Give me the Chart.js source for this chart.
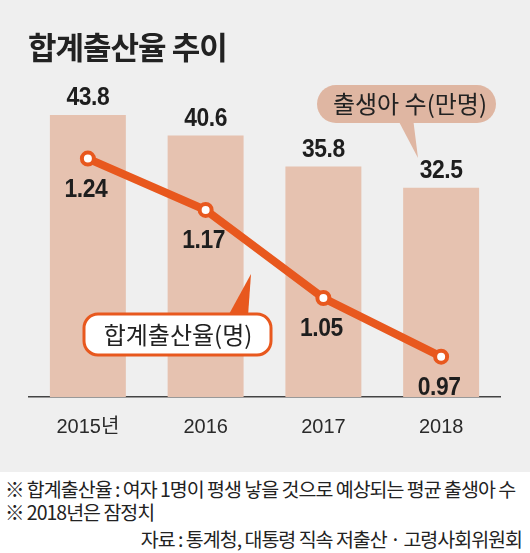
<!DOCTYPE html>
<html>
<head>
<meta charset="utf-8">
<script src="https://cdn.jsdelivr.net/npm/chart.js@4"></script>
<style>
    body{margin:0;background:#fff;}
    #wrap{position:relative;width:530px;height:553px;overflow:hidden;font-family:'Noto Sans CJK KR',sans-serif;color:#222;}
    #bg{position:absolute;left:0;top:0;width:530px;height:472px;background:#efefef;}
    #chartBox{position:absolute;left:0;top:0;width:530px;height:472px;}
    #title{position:absolute;left:28px;top:25px;font-size:31px;font-weight:bold;letter-spacing:-1px;line-height:42px;white-space:nowrap;}
    .note{position:absolute;font-size:19.5px;letter-spacing:-1px;line-height:24px;white-space:nowrap;}
</style>
</head>
<body>
<div id="wrap">
    <div id="bg"></div>
    <div id="chartBox"><canvas id="myChart" width="530" height="472"></canvas></div>
    <div id="title">합계출산율 추이</div>
    <div class="note" style="left:5px;top:477px;">※ 합계출산율 : 여자 1명이 평생 낳을 것으로 예상되는 평균 출생아 수</div>
    <div class="note" style="left:5px;top:500px;">※ 2018년은 잠정치</div>
    <div class="note" style="right:8px;top:527px;">자료 : 통계청, 대통령 직속 저출산 · 고령사회위원회</div>
</div>
<script>
const years = ['2015년', '2016', '2017', '2018'];
const births = [43.8, 40.6, 35.8, 32.5];
const fertility = [1.24, 1.17, 1.05, 0.97];
const birthLabels = ['43.8', '40.6', '35.8', '32.5'];
const fertilityLabels = ['1.24', '1.17', '1.05', '0.97'];

const orange = '#e8581e';
const barColor = '#e6c2b0';
const bubbleColor = '#dfb6a2';
const numFont = "bold 26px 'Liberation Sans', Arial, sans-serif";
const korFont = "24px 'Noto Sans CJK KR', sans-serif";

const roundRect = (ctx, x, y, w, h, r) =>{
    ctx.beginPath();
    ctx.moveTo(x + r, y);
    ctx.arcTo(x + w, y, x + w, y + h, r);
    ctx.arcTo(x + w, y + h, x, y + h, r);
    ctx.arcTo(x, y + h, x, y, r);
    ctx.arcTo(x, y, x + w, y, r);
    ctx.closePath();
}

// narrow numbers like the newspaper font
const drawNumber = (ctx, text, x, y) =>{
    ctx.save();
    ctx.translate(x, y);
    ctx.scale(0.88, 1);
    ctx.fillText(text, 0, 0);
    ctx.restore();
}

const labelsPlugin = {
    id: 'labels',
    afterDatasetsDraw(chart){
        const ctx = chart.ctx;
        ctx.save();
        ctx.fillStyle = '#1e1e1e';
        ctx.font = numFont;
        ctx.textAlign = 'center';
        ctx.textBaseline = 'middle';
        ctx.letterSpacing = '-0.5px';

        const barMeta = chart.getDatasetMeta(1);
        barMeta.data.forEach((bar, i) =>{
            drawNumber(ctx, birthLabels[i], bar.x, bar.y - 17);
        });
        const lineMeta = chart.getDatasetMeta(0);
        lineMeta.data.forEach((pt, i) =>{
            drawNumber(ctx, fertilityLabels[i], pt.x - 2, pt.y + 31);
        });

        // 출생아 수 bubble
        ctx.letterSpacing = '0px';
        ctx.fillStyle = bubbleColor;
        ctx.beginPath();
        ctx.moveTo(397, 118);
        ctx.lineTo(413, 118);
        ctx.lineTo(418, 158);
        ctx.closePath();
        ctx.fill();
        roundRect(ctx, 317, 85, 179, 38, 19);
        ctx.fill();
        ctx.fillStyle = '#222';
        ctx.font = korFont;
        ctx.fillText('출생아 수(만명)', 410, 104);

        // 합계출산율 callout
        ctx.fillStyle = orange;
        ctx.beginPath();
        ctx.moveTo(228, 316);
        ctx.lineTo(248, 316);
        ctx.lineTo(251, 274);
        ctx.closePath();
        ctx.fill();
        roundRect(ctx, 84, 314, 187, 41, 14);
        ctx.fillStyle = '#fff';
        ctx.fill();
        ctx.lineWidth = 3;
        ctx.strokeStyle = orange;
        ctx.stroke();
        ctx.fillStyle = '#222';
        ctx.fillText('합계출산율(명)', 178, 335);
        ctx.restore();
    }
};

const ctx = document.getElementById('myChart').getContext('2d');
const myChart = new Chart(ctx, {
    data: {
        labels: years,
        datasets: [{
            type: 'line',
            label: '합계출산율(명)',
            data: fertility,
            yAxisID: 'y1',
            borderColor: orange,
            borderWidth: 8,
            pointRadius: 6,
            pointBorderWidth: 4,
            pointBackgroundColor: '#fff',
            pointBorderColor: orange,
            tension: 0,
            order: 0
        }, {
            type: 'bar',
            label: '출생아 수(만명)',
            data: births,
            yAxisID: 'y',
            backgroundColor: barColor,
            barPercentage: 0.645,
            categoryPercentage: 1,
            order: 1
        }]
    },
    options: {
        responsive: false,
        animation: false,
        layout: {
            padding: {left: 29, right: 30, top: 75, bottom: 23}
        },
        plugins: {
            legend: {display: false},
            tooltip: {enabled: false}
        },
        scales: {
            x: {
                grid: {display: false},
                border: {display: true, color: '#444', width: 1.5},
                ticks: {
                    color: '#2a2a2a',
                    padding: 10,
                    font: {family: "'Liberation Sans', 'Noto Sans CJK KR', sans-serif", size: 20}
                }
            },
            y: {display: false, min: 0, max: 50},
            y1: {display: false, min: 0.915, max: 1.354}
        }
    },
    plugins: [labelsPlugin]
});
</script>
</body>
</html>
